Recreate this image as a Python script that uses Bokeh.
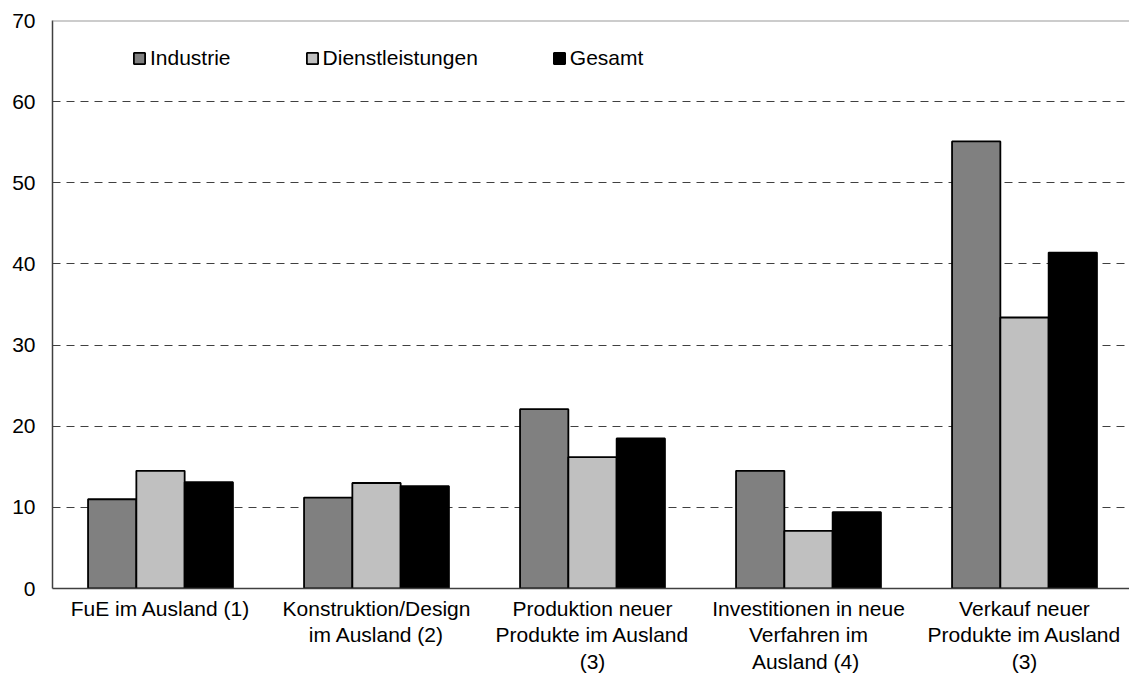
import numpy as np
from bokeh.plotting import figure
from bokeh.models import ColumnDataSource, FixedTicker, Span, Legend, LegendItem
from bokeh.embed import file_html
from bokeh.resources import INLINE

categories = [
    "FuE im Ausland (1)",
    "Konstruktion/Design\nim Ausland (2)",
    "Produktion neuer\nProdukte im Ausland\n(3)",
    "Investitionen in neue\nVerfahren im\nAusland  (4)",
    "Verkauf neuer\nProdukte im Ausland\n(3)",
]
series_names = ["Industrie", "Dienstleistungen", "Gesamt"]
industrie = [11.0, 11.2, 22.1, 14.5, 55.1]
dienstleistungen = [14.5, 13.0, 16.2, 7.1, 33.4]
gesamt = [13.1, 12.6, 18.5, 9.4, 41.4]
y_ticks = [0, 10, 20, 30, 40, 50, 60, 70]
grid_ticks = [10, 20, 30, 40, 50, 60]

colors = ["#808080", "#C0C0C0", "#000000"]
FONT = "Liberation Sans"
FS = "21px"

n = len(categories)
centers = np.arange(n) + 0.5
bw = 0.2236
offsets = [-bw, 0.0, bw]

p = figure(width=1129, height=692, output_backend="svg", toolbar_location=None,
           x_range=(0, 1077 / 216), y_range=(0, 70),
           min_border_left=52, min_border_right=0, min_border_top=20, min_border_bottom=104)
p.outline_line_color = None
p.background_fill_color = "white"
p.border_fill_color = "white"

renderers = []
for vals, off, col in zip([industrie, dienstleistungen, gesamt], offsets, colors):
    src = ColumnDataSource(dict(x=centers + off, top=vals))
    r = p.vbar(x="x", top="top", bottom=0, width=bw, source=src,
               fill_color=col, line_color="black", line_width=1.8)
    renderers.append(r)

# axes
p.yaxis.ticker = FixedTicker(ticks=y_ticks)
p.yaxis.major_tick_line_color = None
p.yaxis.minor_tick_line_color = None
p.yaxis.major_tick_out = 0
p.yaxis.major_tick_in = 0
p.yaxis.major_label_standoff = 17
p.yaxis.axis_line_color = "#404040"
p.yaxis.axis_line_width = 1.5
p.yaxis.major_label_text_font = FONT
p.yaxis.major_label_text_font_size = FS
p.yaxis.major_label_text_color = "black"

p.xaxis.ticker = FixedTicker(ticks=list(centers))
p.xaxis.major_label_overrides = {float(c): lab for c, lab in zip(centers, categories)}
p.xaxis.major_tick_line_color = None
p.xaxis.minor_tick_line_color = None
p.xaxis.major_tick_out = 0
p.xaxis.major_tick_in = 0
p.xaxis.major_label_standoff = 8
p.xaxis.axis_line_color = "#404040"
p.xaxis.axis_line_width = 1.5
p.xaxis.major_label_text_font = FONT
p.xaxis.major_label_text_font_size = FS
p.xaxis.major_label_text_color = "black"
p.xaxis.major_label_text_line_height = 1.16

p.xgrid.grid_line_color = None
p.ygrid.ticker = FixedTicker(ticks=grid_ticks)
p.ygrid.grid_line_color = "#404040"
p.ygrid.grid_line_dash = "8 6"
p.ygrid.grid_line_width = 1

p.add_layout(Span(location=70, dimension="width", line_color="#999999", line_width=2))

legend = Legend(items=[LegendItem(label=nm, renderers=[r]) for nm, r in zip(series_names, renderers)],
                orientation="horizontal", location=(80, 518), spacing=74,
                padding=0, margin=0, border_line_color=None, background_fill_alpha=0,
                glyph_width=14, glyph_height=14, label_standoff=4, label_height=21,
                label_text_font=FONT, label_text_font_size=FS, label_text_color="black")
p.add_layout(legend)

open("out.html", "w").write(file_html(p, INLINE))
